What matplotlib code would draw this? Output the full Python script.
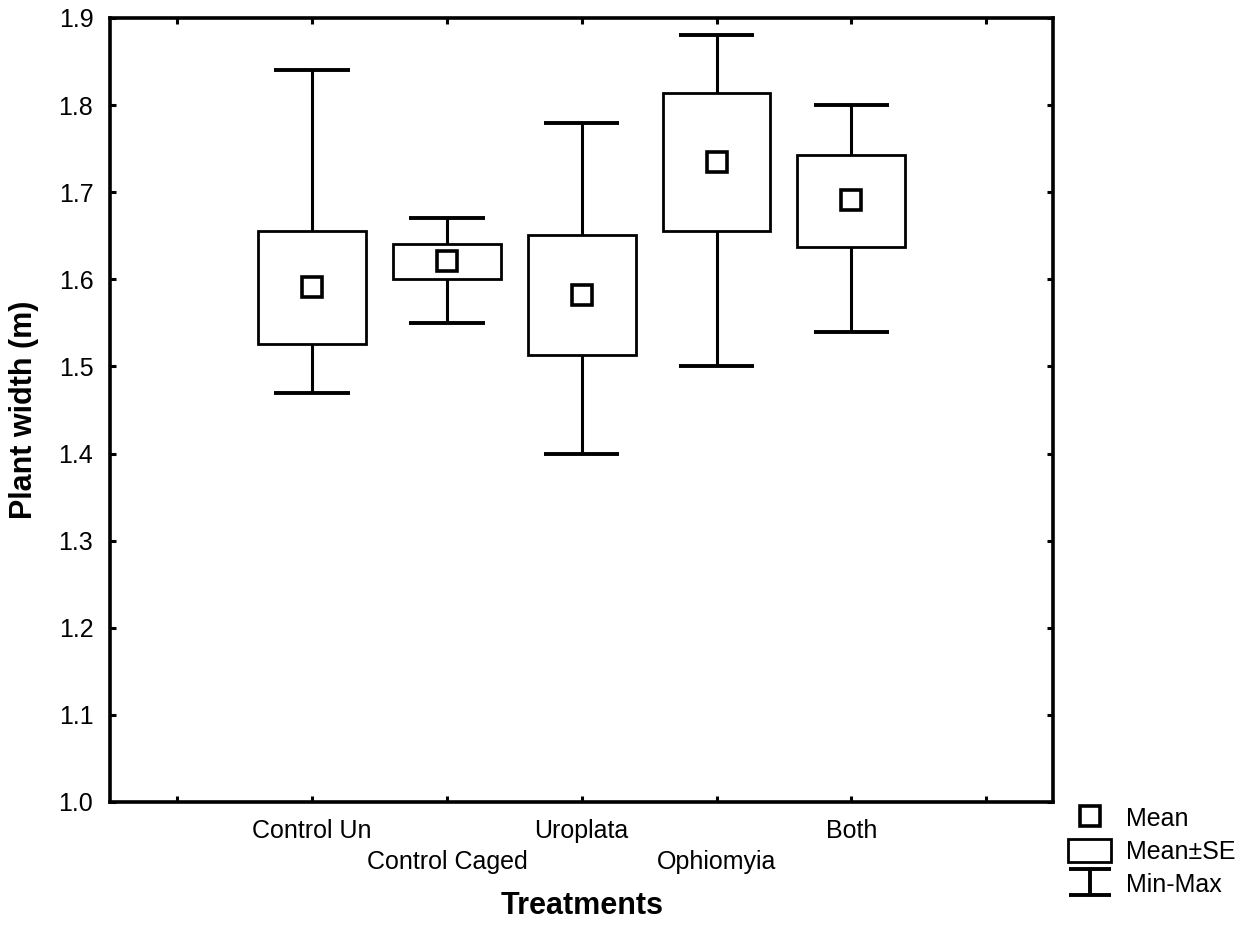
import matplotlib
matplotlib.use("Agg")
import matplotlib.pyplot as plt
from matplotlib.lines import Line2D
from matplotlib.patches import Rectangle
from matplotlib.path import Path

plt.rcParams['font.family'] = ['Liberation Sans', 'DejaVu Sans']

# plant width per treatment: mean, mean +/- SE, min and max
treatments = ["Control Un", "Control Caged", "Uroplata", "Ophiomyia", "Both"]
means = [1.591, 1.621, 1.582, 1.735, 1.691]
se_low = [1.526, 1.600, 1.513, 1.655, 1.637]
se_high = [1.655, 1.641, 1.651, 1.814, 1.743]
mins = [1.47, 1.55, 1.40, 1.50, 1.54]
maxs = [1.84, 1.67, 1.78, 1.88, 1.80]

xpos = [i + 1.5 for i in range(len(treatments))]

fig = plt.figure(figsize=(12.51, 9.32), dpi=100)
ax = fig.add_axes([0.0879, 0.1395, 0.7542, 0.8412])

# min-max whiskers with caps
ax.vlines(xpos, mins, maxs, color='black', lw=2.2, zorder=1)
ax.hlines(mins, [x - 0.28 for x in xpos], [x + 0.28 for x in xpos], color='black', lw=2.8, zorder=1)
ax.hlines(maxs, [x - 0.28 for x in xpos], [x + 0.28 for x in xpos], color='black', lw=2.8, zorder=1)

# mean +/- SE boxes
heights = [h - l for l, h in zip(se_low, se_high)]
ax.bar(xpos, heights, bottom=se_low, width=0.8, color='white', edgecolor='black', lw=2.0, zorder=2)

# means
ax.plot(xpos, means, 's', ms=14, mfc='white', mec='black', mew=2.6, zorder=3)

ax.set_xlim(0, 7)
ax.set_ylim(1.0, 1.9)
ax.set_yticks([1.0 + 0.1 * i for i in range(10)])
ax.set_yticklabels([f"{1.0 + 0.1 * i:.1f}" for i in range(10)])

# tick marks every half step, labels staggered on two rows
ax.set_xticks([0.5 + i for i in range(7)])
labels = [""]
for i, t in enumerate(treatments):
    labels.append(t if i % 2 == 0 else "\n" + t)
labels.append("")
ax.set_xticklabels(labels)

ax.tick_params(direction='in', length=4, width=2.2, labelsize=18, pad=12,
               top=True, right=True)
for lab in ax.get_xticklabels():
    lab.set_linespacing(1.38)
for sp in ax.spines.values():
    sp.set_linewidth(2.6)

ax.set_xlabel("Treatments", fontsize=22, fontweight='bold', labelpad=12)
ax.set_ylabel("Plant width (m)", fontsize=22, fontweight='bold', labelpad=14)

# legend icons
minmax = Path([(-1, 0.62), (1, 0.62), (0, 0.62), (0, -0.62), (-1, -0.62), (1, -0.62)],
              [Path.MOVETO, Path.LINETO, Path.MOVETO, Path.LINETO, Path.MOVETO, Path.LINETO])
handles = [
    Line2D([], [], ls='none', marker='s', ms=14, mfc='white', mec='black', mew=2.6),
    Rectangle((0, 0), 1, 1, facecolor='white', edgecolor='black', lw=2.0),
    Line2D([], [], ls='none', marker=minmax, ms=30, mfc='none', mec='black', mew=2.8),
]
fig.legend(handles, ["Mean", "Mean\u00b1SE", "Min-Max"], loc='upper left',
           bbox_to_anchor=(0.854, 0.135), frameon=False, fontsize=18,
           handlelength=1.7, handleheight=1.0, handletextpad=0.6,
           labelspacing=0.33, borderpad=0, borderaxespad=0)

fig.savefig("out.png", dpi=100)
